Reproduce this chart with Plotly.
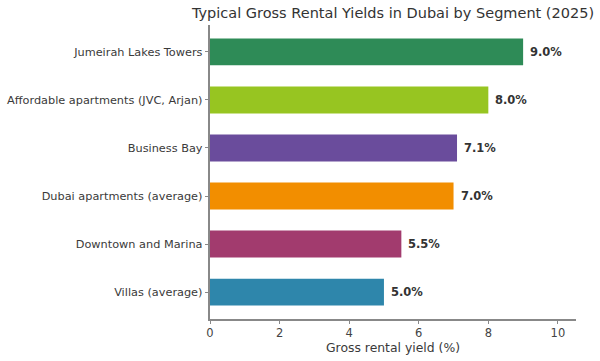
import plotly.graph_objects as go

segments = ["Jumeirah Lakes Towers", "Affordable apartments (JVC, Arjan)", "Business Bay",
            "Dubai apartments (average)", "Downtown and Marina", "Villas (average)"]
yields = [9.0, 8.0, 7.1, 7.0, 5.5, 5.0]
colors = ["#2E8B57", "#97C521", "#6A4C9C", "#F28E00", "#A23B6E", "#2E86AB"]
x_ticks = [0, 2, 4, 6, 8, 10]

n = len(segments)
ypos = [n - 1 - i for i in range(n)]

fig = go.Figure()
fig.add_trace(go.Bar(
    x=yields, y=ypos, orientation="h", width=0.56,
    marker=dict(color=colors, line=dict(width=0)),
    showlegend=False, hoverinfo="x+y",
))
for v, y in zip(yields, ypos):
    fig.add_annotation(x=v, y=y, text=f"{v:.1f}%", xanchor="left", yanchor="middle",
                       xshift=5, showarrow=False,
                       font=dict(family="DejaVu Sans", size=11.5, color="#333333", weight="bold"))

fig.update_layout(
    width=600, height=361,
    margin=dict(l=210, r=24, t=25, b=42),
    paper_bgcolor="white", plot_bgcolor="white",
    font=dict(family="DejaVu Sans", size=11.3, color="#3a3a3a"),
    title=dict(text="Typical Gross Rental Yields in Dubai by Segment (2025)",
               x=(210 + 576) / 2 / 600, xanchor="center", y=1 - 13 / 361, yanchor="middle",
               font=dict(size=14.5, color="#333333")),
)
fig.update_xaxes(range=[0, 10.52], tickvals=x_ticks, ticks="outside", ticklen=3.5,
                 tickcolor="#888888", showline=True, linecolor="#888888", linewidth=1.5,
                 showgrid=False, zeroline=False, automargin=False, ticklabelstandoff=-1,
                 title=dict(text="Gross rental yield (%)", font=dict(size=12.4), standoff=2),
                 tickfont=dict(size=11.5, color="#444444"))
fig.update_yaxes(range=[-0.56, n - 1 + 0.56], tickvals=ypos, ticktext=segments,
                 ticks="outside", ticklen=3.5, tickcolor="#888888",
                 showline=True, linecolor="#888888", linewidth=1.5, automargin=False,
                 showgrid=False, zeroline=False, tickfont=dict(size=11.3, color="#3a3a3a"))

fig.write_html("out.html")
